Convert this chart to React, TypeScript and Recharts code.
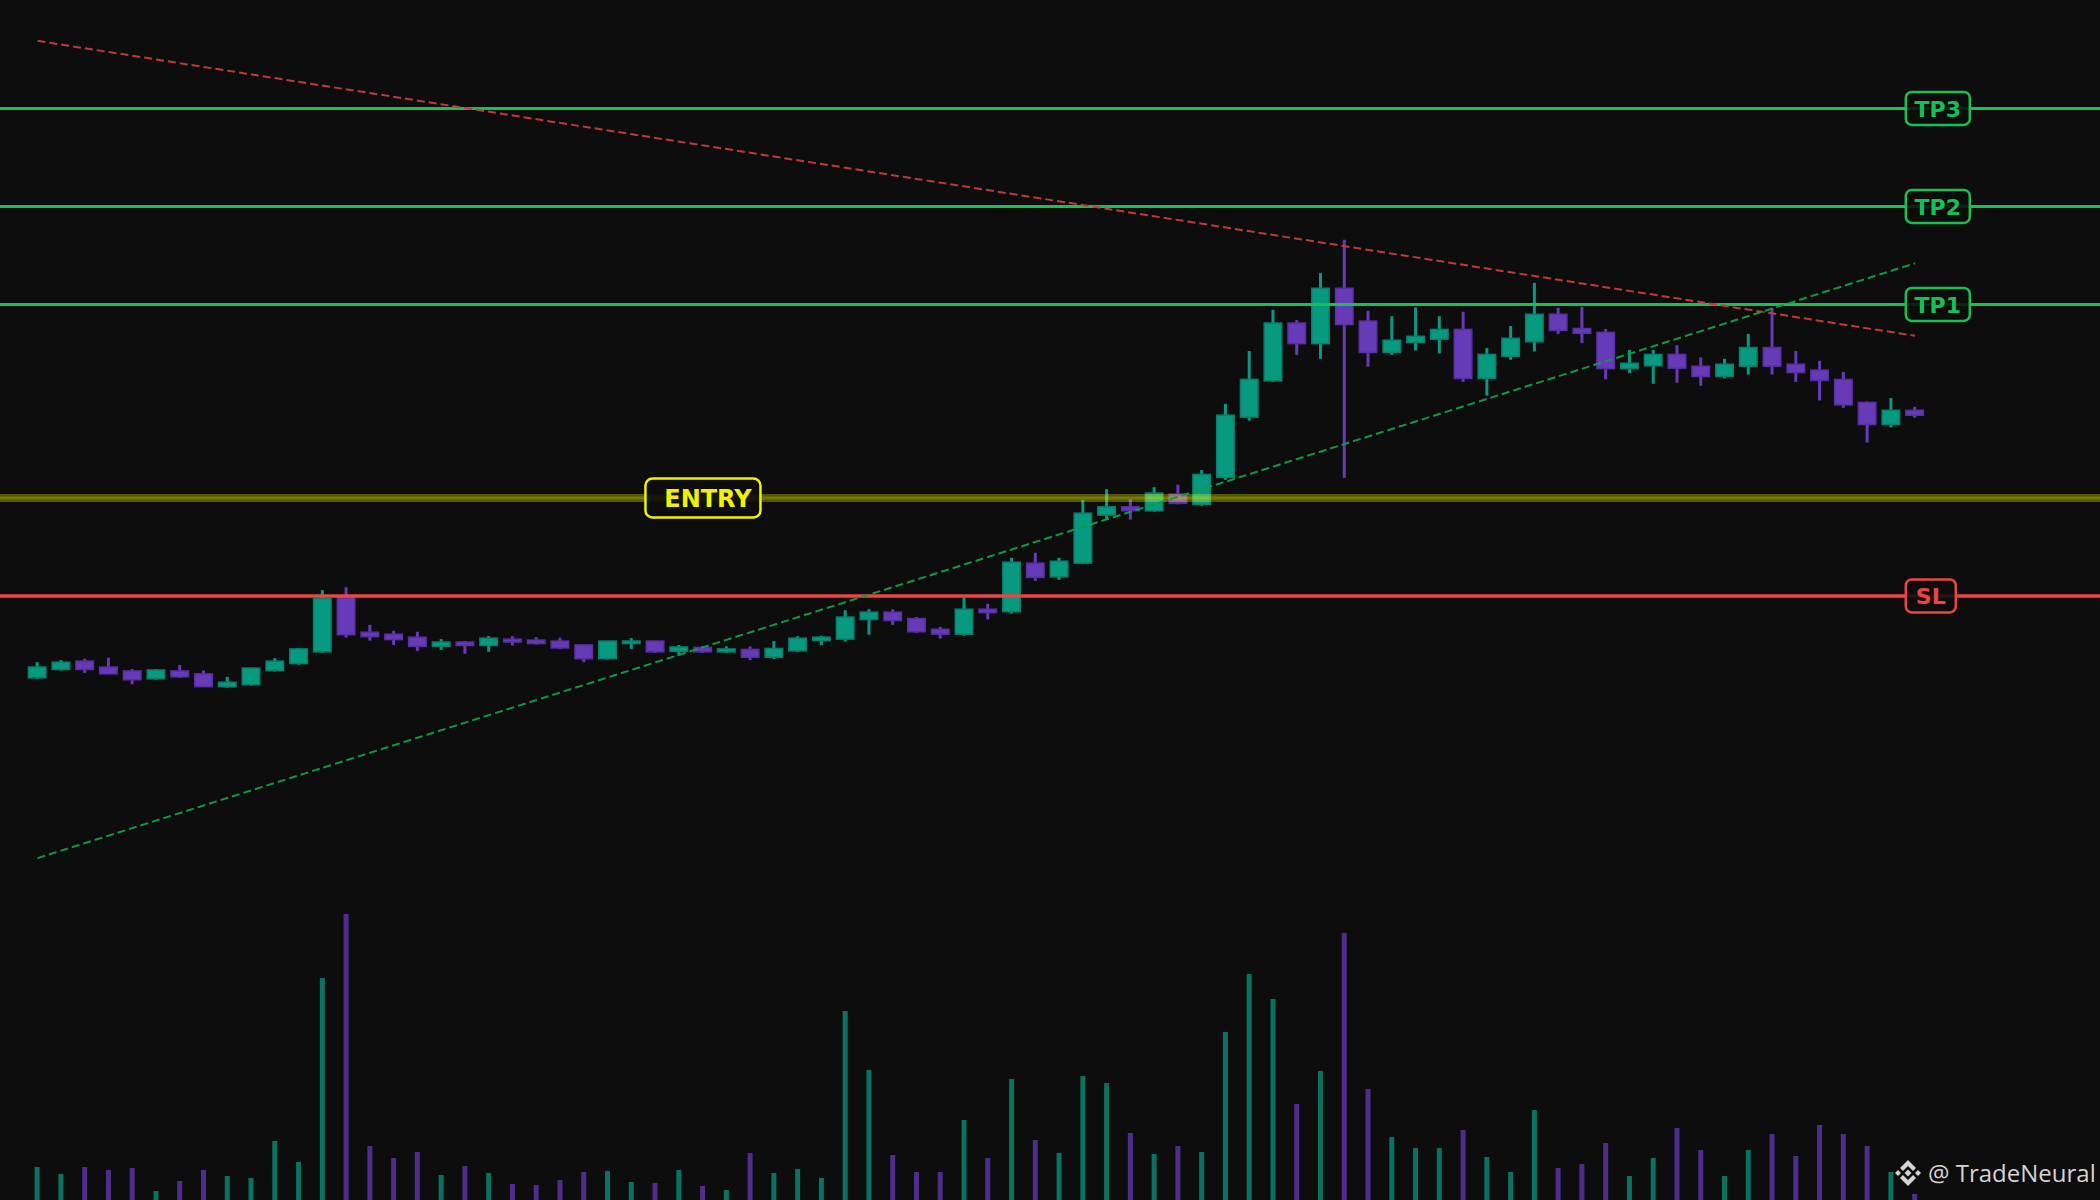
import React from "react";
import { ComposedChart, Bar, Cell, XAxis, YAxis, ReferenceLine, ReferenceDot } from "recharts";

const W = 2100;
const H = 1200;

// candles, one per bar
const opens = [
  96.33, 96.5, 96.67, 96.55, 96.47, 96.31, 96.47, 96.41, 96.15, 96.19,
  96.48, 96.62, 96.86, 97.97, 97.26, 97.22, 97.16, 96.97, 97.06, 96.99,
  97.12, 97.1, 97.08, 97.0, 96.72, 97.03, 97.08, 96.87, 96.95, 96.86,
  96.91, 96.75, 96.88, 97.09, 97.12, 97.52, 97.67, 97.54, 97.32, 97.22,
  97.73, 97.68, 98.67, 98.39, 98.67, 99.65, 99.82, 99.74, 100.08, 99.87,
  100.42, 101.65, 102.39, 103.57, 103.15, 104.28, 103.61, 102.97, 103.17, 103.24,
  103.44, 102.44, 102.89, 103.19, 103.75, 103.46, 103.38, 102.64, 102.7, 102.93,
  102.69, 102.48, 102.69, 103.07, 102.73, 102.61, 102.42, 101.95, 101.5, 101.79,
];
const highs = [
  96.65, 96.69, 96.72, 96.74, 96.51, 96.51, 96.59, 96.48, 96.35, 96.53,
  96.73, 96.94, 98.12, 98.18, 97.41, 97.29, 97.27, 97.12, 97.08, 97.18,
  97.18, 97.16, 97.15, 97.01, 97.08, 97.14, 97.08, 97.0, 96.98, 96.97,
  96.97, 97.08, 97.18, 97.19, 97.71, 97.73, 97.73, 97.57, 97.37, 97.97,
  97.84, 98.78, 98.88, 98.78, 99.96, 100.18, 99.97, 100.22, 100.27, 100.57,
  101.92, 103.0, 103.84, 103.63, 104.59, 105.27, 103.82, 103.71, 103.89, 103.71,
  103.8, 103.06, 103.51, 104.39, 103.88, 103.9, 103.45, 103.02, 103.02, 103.12,
  102.87, 102.84, 103.35, 103.87, 103.0, 102.8, 102.57, 101.97, 102.04, 101.86,
];
const lows = [
  96.31, 96.48, 96.43, 96.41, 96.2, 96.29, 96.33, 96.15, 96.13, 96.17,
  96.46, 96.6, 96.84, 97.15, 97.09, 97.0, 96.88, 96.9, 96.82, 96.86,
  96.99, 97.01, 96.92, 96.65, 96.7, 96.92, 96.84, 96.78, 96.84, 96.84,
  96.69, 96.71, 96.86, 97.0, 97.07, 97.21, 97.41, 97.25, 97.13, 97.19,
  97.52, 97.64, 98.31, 98.33, 98.65, 99.55, 99.56, 99.72, 99.87, 99.84,
  100.37, 101.58, 102.37, 102.92, 102.84, 100.41, 102.68, 102.92, 103.01, 102.95,
  102.37, 102.09, 102.82, 102.99, 103.35, 103.16, 102.42, 102.55, 102.33, 102.35,
  102.29, 102.44, 102.52, 102.52, 102.37, 101.99, 101.84, 101.13, 101.44, 101.64,
];
const closes = [
  96.55, 96.65, 96.5, 96.41, 96.29, 96.49, 96.35, 96.15, 96.24, 96.53,
  96.67, 96.92, 97.95, 97.21, 97.17, 97.11, 96.97, 97.06, 96.99, 97.14,
  97.06, 97.03, 96.94, 96.72, 97.08, 97.08, 96.86, 96.96, 96.86, 96.92,
  96.75, 96.93, 97.14, 97.16, 97.57, 97.67, 97.5, 97.27, 97.22, 97.73,
  97.66, 98.69, 98.38, 98.71, 99.69, 99.82, 99.74, 100.1, 99.89, 100.48,
  101.69, 102.42, 103.57, 103.15, 104.28, 103.54, 102.97, 103.22, 103.3, 103.44,
  102.44, 102.93, 103.26, 103.75, 103.42, 103.36, 102.64, 102.75, 102.93, 102.65,
  102.48, 102.73, 103.07, 102.69, 102.56, 102.4, 101.9, 101.5, 101.79, 101.69,
];
const volumes = [
  3300, 2600, 3300, 3000, 3200, 900, 1900, 3000, 2400, 2200,
  5900, 3800, 22200, 28600, 5400, 4200, 4800, 2500, 3400, 2700,
  1600, 1500, 2000, 2800, 2900, 1800, 1700, 3000, 1400, 1000,
  4700, 2700, 3100, 2200, 18900, 13000, 4500, 2800, 2800, 8000,
  4200, 12100, 6000, 4700, 12400, 11700, 6700, 4600, 5400, 4800,
  16800, 22600, 20100, 9600, 12900, 26700, 11100, 6300, 5200, 5200,
  7000, 4300, 2800, 9000, 3200, 3600, 5700, 2400, 4200, 7200,
  5000, 2400, 5000, 6600, 4400, 7500, 6600, 5400, 2800, 600,
];

// trade levels
const ENTRY = 100;
const SL = 98;
const TP1 = 103.95;
const TP2 = 105.95;
const TP3 = 107.95;

// trend lines [index, price]
const resistance = [
  { x: 0, y: 109.33 },
  { x: 79, y: 103.31 },
];
const support = [
  { x: 0, y: 92.65 },
  { x: 79, y: 104.79 },
];

const TAG_AT = 80;
const ENTRY_TAG_AT = 28;

const X_DOMAIN: [number, number] = [-1.578, 86.783];
const P_DOMAIN: [number, number] = [85.673, 110.163];
const V_DOMAIN: [number, number] = [0, 120000];

const UP = "#089981";
const UP_EDGE = "#07806c";
const DOWN = "#673ab7";
const DOWN_EDGE = "#5a2fa6";
const VOL_UP = "#08735f";
const VOL_DOWN = "#4f2d8c";
const TP_COLOR = "#14c154";
const SL_COLOR = "#ef4444";
const ENTRY_COLOR = "#f2f200";

const data = opens.map((o, i) => ({
  i,
  open: o,
  high: highs[i],
  low: lows[i],
  close: closes[i],
  vol: volumes[i],
}));

const Candle = (props: any) => {
  const { x, y, width, height, payload } = props;
  if (payload == null || height == null) return null;
  const { open, close, high, low } = payload;
  const up = close >= open;
  const top0 = Math.min(y, y + height);
  const span = Math.abs(height);
  const ppu = span / (high - low);
  const yOf = (v: number) => top0 + (high - v) * ppu;
  const cx = x + width / 2;
  let bt = yOf(Math.max(open, close));
  let bh = yOf(Math.min(open, close)) - bt;
  if (bh < 2.5) {
    bt -= (2.5 - bh) / 2;
    bh = 2.5;
  }
  const fill = up ? UP : DOWN;
  const edge = up ? UP_EDGE : DOWN_EDGE;
  return (
    <g>
      <rect x={cx - 1.5} y={top0} width={3} height={span} fill={fill} />
      <rect x={x + 0.75} y={bt} width={width - 1.5} height={bh} fill={fill} stroke={edge} strokeWidth={1.5} />
    </g>
  );
};

const tag = (text: string, color: string, w: number, left: boolean) => (p: any) => {
  const { cx, cy } = p;
  const h = 33;
  const x0 = left ? cx - 33 : cx - w / 2;
  return (
    <g>
      <rect x={x0} y={cy - h / 2} width={w} height={h} rx={6} ry={6} fill="#0d0d0d" fillOpacity={0.88} stroke={color} strokeWidth={2.5} />
      <text
        x={x0 + w / 2}
        y={cy + 1}
        fill={color}
        fontFamily="DejaVu Sans"
        fontWeight="bold"
        fontSize={22}
        textAnchor="middle"
        dominantBaseline="central"
      >
        {text}
      </text>
    </g>
  );
};

const entryTag = (p: any) => {
  const { cx, cy } = p;
  const w = 115;
  const h = 39;
  return (
    <g>
      <rect x={cx - w / 2} y={cy - h / 2} width={w} height={h} rx={7} ry={7} fill="#0d0d0d" fillOpacity={0.9} stroke={ENTRY_COLOR} strokeWidth={2.5} />
      <text
        x={cx + 5}
        y={cy + 1}
        fill={ENTRY_COLOR}
        fontFamily="DejaVu Sans"
        fontWeight="bold"
        fontSize={24}
        textAnchor="middle"
        dominantBaseline="central"
      >
        ENTRY
      </text>
    </g>
  );
};

const Watermark = () => (
  <svg width={W} height={H} style={{ position: "absolute", left: 0, top: 0, pointerEvents: "none" }}>
    <g fill="#d4d4d4" transform="translate(1908,1173)">
      <polygon points="0,-13 8,-5 5,-2 0,-7 -5,-2 -8,-5" />
      <polygon points="0,13 8,5 5,2 0,7 -5,2 -8,5" />
      <polygon points="0,-3.5 3.5,0 0,3.5 -3.5,0" />
      <polygon points="-10,-3 -7,0 -10,3 -13,0" />
      <polygon points="10,-3 13,0 10,3 7,0" />
    </g>
    <text x={1928} y={1182} fill="#d4d4d4" fontFamily="Open Sans" fontSize={24}>
      @ TradeNeural
    </text>
  </svg>
);

export default function App() {
  return (
    <div style={{ position: "fixed", left: 0, top: 0, width: W, height: H, background: "#0d0d0d", overflow: "hidden" }}>
      <div style={{ position: "absolute", left: 0, top: 0 }}>
        <ComposedChart width={W} height={H} data={data} margin={{ top: 0, right: 0, bottom: 0, left: 0 }}>
          <XAxis type="number" dataKey="i" domain={X_DOMAIN} allowDataOverflow hide />
          <YAxis yAxisId="v" domain={V_DOMAIN} allowDataOverflow hide />
          <Bar yAxisId="v" dataKey="vol" barSize={5} isAnimationActive={false}>
            {data.map((d, i) => (
              <Cell key={i} fill={d.close >= d.open ? VOL_UP : VOL_DOWN} />
            ))}
          </Bar>
        </ComposedChart>
      </div>
      <div style={{ position: "absolute", left: 0, top: 0 }}>
        <ComposedChart width={W} height={H} data={data} margin={{ top: 0, right: 0, bottom: 0, left: 0 }}>
          <XAxis type="number" dataKey="i" domain={X_DOMAIN} allowDataOverflow hide />
          <YAxis yAxisId="p" domain={P_DOMAIN} allowDataOverflow hide />
          <Bar
            yAxisId="p"
            dataKey={(d: any) => [d.low, d.high]}
            barSize={19}
            shape={<Candle />}
            isAnimationActive={false}
          />
          <ReferenceLine yAxisId="p" y={TP3} stroke={TP_COLOR} strokeWidth={3} />
          <ReferenceLine yAxisId="p" y={TP2} stroke={TP_COLOR} strokeWidth={3} />
          <ReferenceLine yAxisId="p" y={TP1} stroke={TP_COLOR} strokeWidth={3} />
          <ReferenceLine yAxisId="p" y={SL} stroke={SL_COLOR} strokeWidth={3.5} />
          <ReferenceLine yAxisId="p" y={ENTRY} stroke="#ffff00" strokeOpacity={0.3} strokeWidth={8} />
          <ReferenceLine yAxisId="p" y={ENTRY} stroke="#ffff00" strokeOpacity={0.2} strokeWidth={3} />
          <ReferenceLine
            yAxisId="p"
            segment={resistance}
            stroke="#c0393b"
            strokeWidth={2}
            strokeDasharray="8 4"
            ifOverflow="visible"
          />
          <ReferenceLine
            yAxisId="p"
            segment={support}
            stroke="#0e9a43"
            strokeWidth={2}
            strokeDasharray="8 4"
            ifOverflow="visible"
          />
          <ReferenceDot yAxisId="p" x={TAG_AT} y={TP3} r={1} ifOverflow="visible" shape={tag("TP3", TP_COLOR, 64, true)} />
          <ReferenceDot yAxisId="p" x={TAG_AT} y={TP2} r={1} ifOverflow="visible" shape={tag("TP2", TP_COLOR, 64, true)} />
          <ReferenceDot yAxisId="p" x={TAG_AT} y={TP1} r={1} ifOverflow="visible" shape={tag("TP1", TP_COLOR, 64, true)} />
          <ReferenceDot yAxisId="p" x={TAG_AT} y={SL} r={1} ifOverflow="visible" shape={tag("SL", SL_COLOR, 50, true)} />
          <ReferenceDot yAxisId="p" x={ENTRY_TAG_AT} y={ENTRY} r={1} ifOverflow="visible" shape={entryTag} />
        </ComposedChart>
      </div>
      <Watermark />
    </div>
  );
}
